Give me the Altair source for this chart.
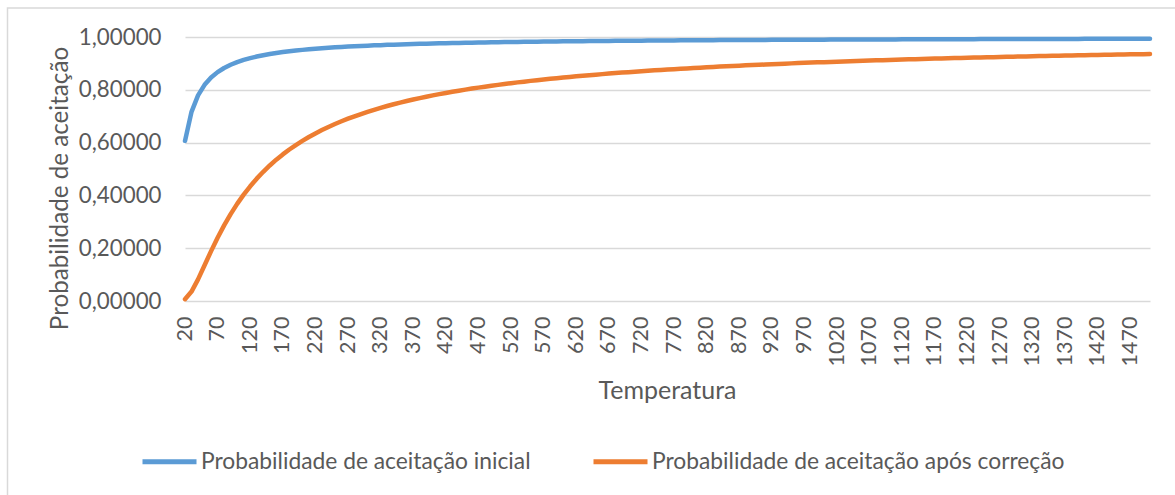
import altair as alt
import pandas as pd

temperatures = list(range(20, 1501, 10))

prob_inicial = [
    0.6065, 0.7165, 0.7788, 0.8187, 0.8465, 0.8669, 0.8825, 0.8948, 0.9048, 0.9131,
    0.9200, 0.9260, 0.9311, 0.9355, 0.9394, 0.9429, 0.9460, 0.9487, 0.9512, 0.9535,
    0.9556, 0.9574, 0.9592, 0.9608, 0.9623, 0.9636, 0.9649, 0.9661, 0.9672, 0.9683,
    0.9692, 0.9702, 0.9710, 0.9718, 0.9726, 0.9733, 0.9740, 0.9747, 0.9753, 0.9759,
    0.9765, 0.9770, 0.9775, 0.9780, 0.9785, 0.9789, 0.9794, 0.9798, 0.9802, 0.9806,
    0.9810, 0.9813, 0.9817, 0.9820, 0.9823, 0.9826, 0.9829, 0.9832, 0.9835, 0.9837,
    0.9840, 0.9843, 0.9845, 0.9847, 0.9850, 0.9852, 0.9854, 0.9856, 0.9858, 0.9860,
    0.9862, 0.9864, 0.9866, 0.9868, 0.9869, 0.9871, 0.9873, 0.9874, 0.9876, 0.9877,
    0.9879, 0.9880, 0.9882, 0.9883, 0.9884, 0.9886, 0.9887, 0.9888, 0.9890, 0.9891,
    0.9892, 0.9893, 0.9894, 0.9895, 0.9896, 0.9897, 0.9898, 0.9900, 0.9900, 0.9901,
    0.9902, 0.9903, 0.9904, 0.9905, 0.9906, 0.9907, 0.9908, 0.9909, 0.9910, 0.9910,
    0.9911, 0.9912, 0.9913, 0.9913, 0.9914, 0.9915, 0.9916, 0.9916, 0.9917, 0.9918,
    0.9918, 0.9919, 0.9920, 0.9920, 0.9921, 0.9922, 0.9922, 0.9923, 0.9923, 0.9924,
    0.9925, 0.9925, 0.9926, 0.9926, 0.9927, 0.9927, 0.9928, 0.9928, 0.9929, 0.9929,
    0.9930, 0.9930, 0.9931, 0.9931, 0.9932, 0.9932, 0.9933, 0.9933, 0.9934,
]

prob_correcao = [
    0.0067, 0.0357, 0.0821, 0.1353, 0.1889, 0.2397, 0.2865, 0.3292, 0.3679, 0.4029,
    0.4346, 0.4634, 0.4895, 0.5134, 0.5353, 0.5553, 0.5738, 0.5908, 0.6065, 0.6212,
    0.6347, 0.6474, 0.6592, 0.6703, 0.6807, 0.6905, 0.6997, 0.7083, 0.7165, 0.7243,
    0.7316, 0.7386, 0.7452, 0.7515, 0.7575, 0.7632, 0.7686, 0.7738, 0.7788, 0.7836,
    0.7881, 0.7925, 0.7967, 0.8007, 0.8046, 0.8083, 0.8119, 0.8154, 0.8187, 0.8219,
    0.8251, 0.8281, 0.8309, 0.8338, 0.8365, 0.8391, 0.8416, 0.8441, 0.8465, 0.8488,
    0.8510, 0.8532, 0.8554, 0.8574, 0.8594, 0.8614, 0.8632, 0.8651, 0.8669, 0.8686,
    0.8703, 0.8720, 0.8736, 0.8752, 0.8767, 0.8782, 0.8797, 0.8811, 0.8825, 0.8839,
    0.8852, 0.8865, 0.8878, 0.8890, 0.8902, 0.8914, 0.8926, 0.8937, 0.8948, 0.8959,
    0.8970, 0.8981, 0.8991, 0.9001, 0.9011, 0.9021, 0.9030, 0.9039, 0.9048, 0.9057,
    0.9066, 0.9075, 0.9083, 0.9092, 0.9100, 0.9108, 0.9116, 0.9123, 0.9131, 0.9139,
    0.9146, 0.9153, 0.9160, 0.9167, 0.9174, 0.9181, 0.9188, 0.9194, 0.9200, 0.9207,
    0.9213, 0.9219, 0.9225, 0.9231, 0.9237, 0.9243, 0.9249, 0.9254, 0.9260, 0.9265,
    0.9270, 0.9276, 0.9281, 0.9286, 0.9291, 0.9296, 0.9301, 0.9306, 0.9311, 0.9315,
    0.9320, 0.9325, 0.9329, 0.9334, 0.9338, 0.9342, 0.9347, 0.9351, 0.9355,
]

x_tick_values = list(range(20, 1471, 50))
y_tick_values = [0.0, 0.2, 0.4, 0.6, 0.8, 1.0]

series_names = [
    "Probabilidade de aceitação inicial",
    "Probabilidade de aceitação após correção",
]
series_colors = ["#5B9BD5", "#ED7D31"]

rows = []
for t, v in zip(temperatures, prob_inicial):
    rows.append({"Temperatura": t, "Prob": v, "Serie": series_names[0]})
for t, v in zip(temperatures, prob_correcao):
    rows.append({"Temperatura": t, "Prob": v, "Serie": series_names[1]})
df = pd.DataFrame(rows)

FONT = "Lato"
TXT = "#595959"
GRID = "#D9D9D9"

lines = alt.Chart(df).mark_line(strokeWidth=4.5, strokeCap="round", strokeJoin="round").encode(
    x=alt.X(
        "Temperatura:Q",
        scale=alt.Scale(domain=[20, 1500], nice=False, zero=False),
        axis=alt.Axis(
            values=x_tick_values,
            format="d",
            labelAngle=-90,
            labelAlign="right",
            labelBaseline="middle",
            labelPadding=15,
            ticks=False,
            grid=False,
            domain=False,
            labelFont=FONT,
            labelFontSize=21.5,
            labelColor=TXT,
            labelOverlap=False,
            title="Temperatura",
            titleFont=FONT,
            titleFontSize=25,
            titleFontWeight="normal",
            titleColor=TXT,
            titleX=482,
            titleY=97,
            titleBaseline="alphabetic",
            titleAnchor="middle",
        ),
    ),
    y=alt.Y(
        "Prob:Q",
        scale=alt.Scale(domain=[0, 1], nice=False),
        axis=alt.Axis(
            values=y_tick_values,
            labelExpr="replace(format(datum.value, '.5f'), '.', ',')",
            ticks=False,
            domain=False,
            grid=True,
            gridColor=GRID,
            gridWidth=1.3,
            labelPadding=24,
            labelFont=FONT,
            labelFontSize=22.3,
            labelColor=TXT,
            title="Probabilidade de aceitação",
            titleFont=FONT,
            titleFontSize=24.2,
            titleFontWeight="normal",
            titleColor=TXT,
            titleAngle=-90,
            titleX=-118,
            titleY=151,
            titleBaseline="alphabetic",
            titleAnchor="middle",
            titleAlign="center",
        ),
    ),
    color=alt.Color(
        "Serie:N",
        scale=alt.Scale(domain=series_names, range=series_colors),
        legend=alt.Legend(
            title=None,
            orient="none",
            legendX=-45,
            legendY=395,
            direction="horizontal",
            symbolType="stroke",
            symbolSize=2916,
            symbolStrokeWidth=5,
            labelFont=FONT,
            labelFontSize=22.8,
            labelColor=TXT,
            labelLimit=600,
            labelOffset=2,
            columnPadding=52,
        ),
    ),
)

border = alt.Chart(pd.DataFrame({"k": [0]})).mark_rect(
    fillOpacity=0, stroke=GRID, strokeWidth=1.5
).encode(
    x=alt.value(-177.5),
    x2=alt.value(1200),
    y=alt.value(-29),
    y2=alt.value(600),
)

chart = alt.layer(border, lines).properties(
    width=965,
    height=264,
    autosize=alt.AutoSizeParams(type="none"),
    padding={"left": 185, "top": 37, "right": 25, "bottom": 194},
    background="white",
).configure_view(stroke=None)

chart.save("out.html", embed_options={"renderer": "svg", "actions": False})
